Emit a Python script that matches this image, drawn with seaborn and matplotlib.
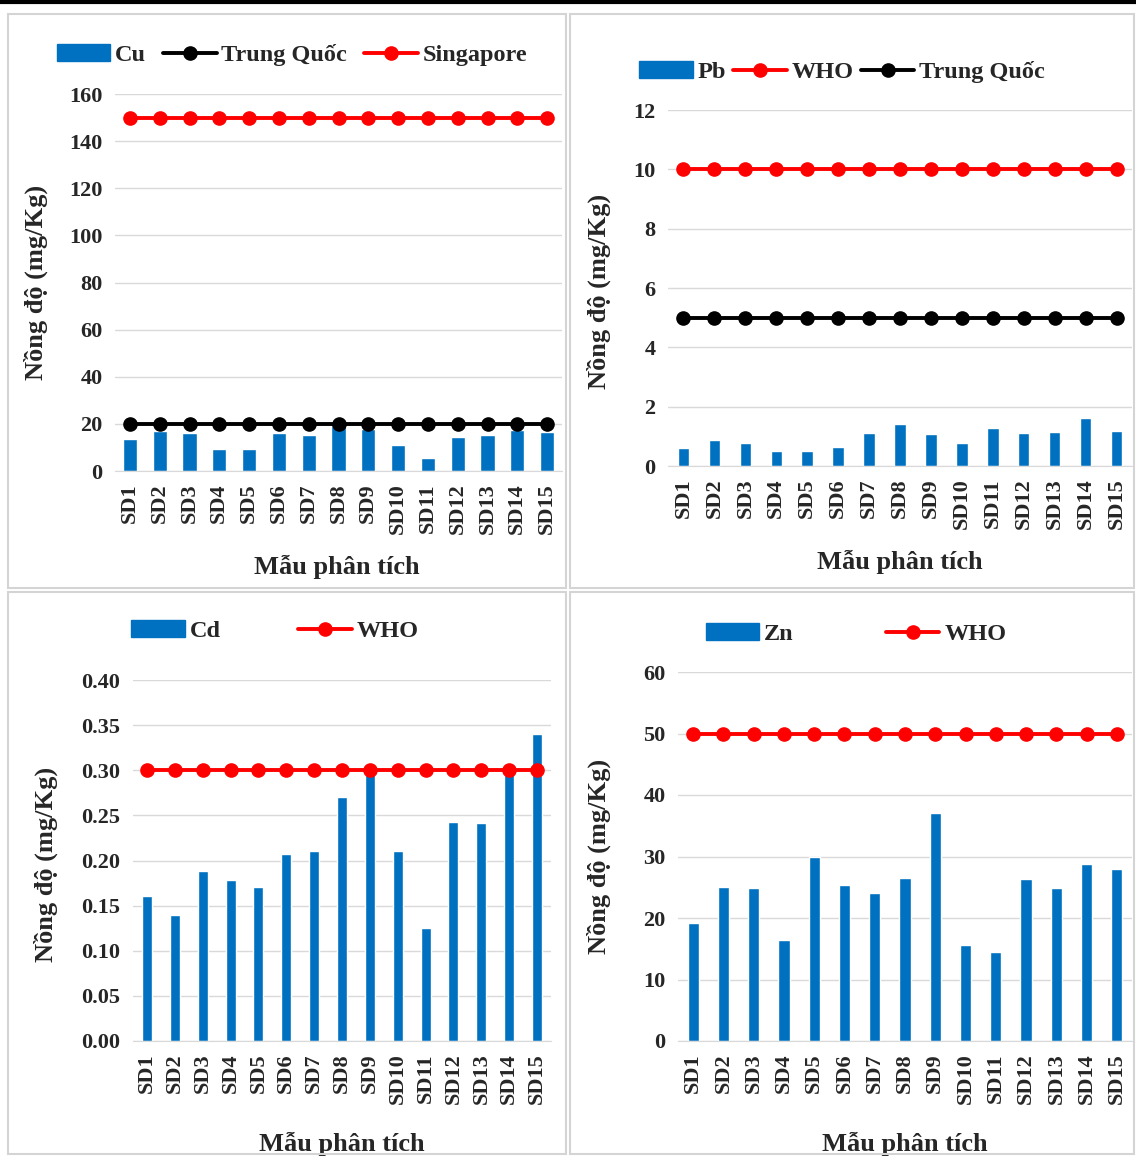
import numpy as np
import matplotlib
matplotlib.use("Agg")
import matplotlib.pyplot as plt
from matplotlib.patches import Rectangle, Patch
from matplotlib.lines import Line2D
import seaborn as sb

sb.set_style("white")
plt.rcParams['font.family'] = ['Liberation Serif', 'DejaVu Serif']
plt.rcParams['font.weight'] = 'bold'

#####
samples = ["SD1", "SD2", "SD3", "SD4", "SD5", "SD6", "SD7", "SD8", "SD9", "SD10",
           "SD11", "SD12", "SD13", "SD14", "SD15"]

cu = [13.6, 17.0, 16.0, 9.3, 9.3, 16.0, 15.3, 19.5, 18.0, 11.0, 5.5, 14.4, 15.3, 17.4, 16.5]
cu_trung_quoc = [20] * 15
cu_singapore = [150] * 15

pb = [0.60, 0.88, 0.77, 0.50, 0.50, 0.64, 1.10, 1.41, 1.08, 0.77, 1.28, 1.10, 1.14, 1.62, 1.18]
pb_who = [10] * 15
pb_trung_quoc = [5] * 15

cd = [0.161, 0.140, 0.188, 0.178, 0.171, 0.207, 0.210, 0.270, 0.302, 0.211,
      0.125, 0.243, 0.241, 0.300, 0.340]
cd_who = [0.3] * 15

zn = [19.2, 25.1, 24.9, 16.5, 29.9, 25.4, 24.0, 26.5, 37.0, 15.6, 14.4, 26.4, 24.9, 28.7, 27.9]
zn_who = [50] * 15

BLUE = "#0070C0"
W, H = 1136, 1156

fig = plt.figure(figsize=(W / 100, H / 100), dpi=100)

# panel frames
for (x0, y0, x1, y1) in [(8, 14, 566, 588), (570, 14, 1134, 588),
                         (8, 592, 566, 1154), (570, 592, 1134, 1154)]:
    fig.patches.append(Rectangle((x0 / W, 1 - y1 / H), (x1 - x0) / W, (y1 - y0) / H,
                                 transform=fig.transFigure, fill=False,
                                 edgecolor="#d4d4d4", lw=1.5))
fig.add_artist(Line2D([0, 1], [1 - 1.5 / H, 1 - 1.5 / H], transform=fig.transFigure,
                      color="black", lw=3))


def px_axes(x0, y0, x1, y1):
    return fig.add_axes([x0 / W, 1 - y1 / H, (x1 - x0) / W, (y1 - y0) / H])


def panel(ax, vals, width, lines, ylim, yticks, fmt, legend_xy, colspace, bar_label,
          ylab_xy, xlab_xy):
    sb.barplot(x=samples, y=vals, color=BLUE, width=width, saturation=1, ax=ax, zorder=2)
    handles = [Patch(color=BLUE, label=bar_label)]
    for name, data, col in lines:
        ax.plot(np.arange(len(samples)), data, color=col, lw=2.8, marker="o", ms=9.5, zorder=3)
        handles.append(Line2D([], [], color=col, lw=2.8, marker="o", ms=9.5, label=name))
    ax.set_ylim(*ylim)
    ax.set_xlim(-0.5, len(samples) - 0.5)
    ax.set_yticks(yticks)
    ax.set_yticklabels([fmt.format(t) for t in yticks], fontsize=16, fontweight="bold")
    ax.set_xticks(range(len(samples)))
    ax.set_xticklabels(samples, rotation=90, fontsize=16, fontweight="bold")
    ax.tick_params(length=0, pad=9)
    ax.yaxis.grid(True, color="#d9d9d9", lw=1, zorder=0)
    ax.set_axisbelow(True)
    for s in ["top", "right", "left"]:
        ax.spines[s].set_visible(False)
    ax.spines["bottom"].set_color("#d9d9d9")
    ax.set_xlabel("Mẫu phân tích", fontsize=19, fontweight="bold")
    ax.set_ylabel("Nồng độ (mg/Kg)", fontsize=19, fontweight="bold")
    ax.yaxis.set_label_coords(*ylab_xy)
    ax.xaxis.set_label_coords(*xlab_xy)
    fig.legend(handles=handles, loc="center", ncol=len(handles), frameon=False,
               bbox_to_anchor=(legend_xy[0] / W, 1 - legend_xy[1] / H),
               bbox_transform=fig.transFigure, handlelength=2.2,
               handletextpad=0.2, columnspacing=colspace,
               prop={"weight": "bold", "size": 17.5})


ax1 = px_axes(115, 94, 562, 471)
panel(ax1, cu, 0.47, [("Trung Quốc", cu_trung_quoc, "black"), ("Singapore", cu_singapore, "red")],
      (0, 160), range(0, 161, 20), "{:d}", (292, 55), 0.7, "Cu", (-0.15, 0.5), (0.497, -0.223))

ax2 = px_axes(668, 110, 1132, 466)
panel(ax2, pb, 0.37, [("WHO", pb_who, "red"), ("Trung Quốc", pb_trung_quoc, "black")],
      (0, 12), range(0, 13, 2), "{:d}", (842, 72), 0.3, "Pb", (-0.123, 0.49), (0.5, -0.236))

ax3 = px_axes(133, 680, 551, 1041)
panel(ax3, cd, 0.36, [("WHO", cd_who, "red")],
      (0, 0.40), np.arange(0, 0.401, 0.05), "{:.2f}", (275, 631), 3.2, "Cd",
      (-0.179, 0.49), (0.5, -0.252))

ax4 = px_axes(678, 672, 1132, 1041)
panel(ax4, zn, 0.37, [("WHO", zn_who, "red")],
      (0, 60), range(0, 61, 10), "{:d}", (856, 634), 3.8, "Zn", (-0.148, 0.5), (0.5, -0.247))

plt.savefig("out.png", dpi=100)
